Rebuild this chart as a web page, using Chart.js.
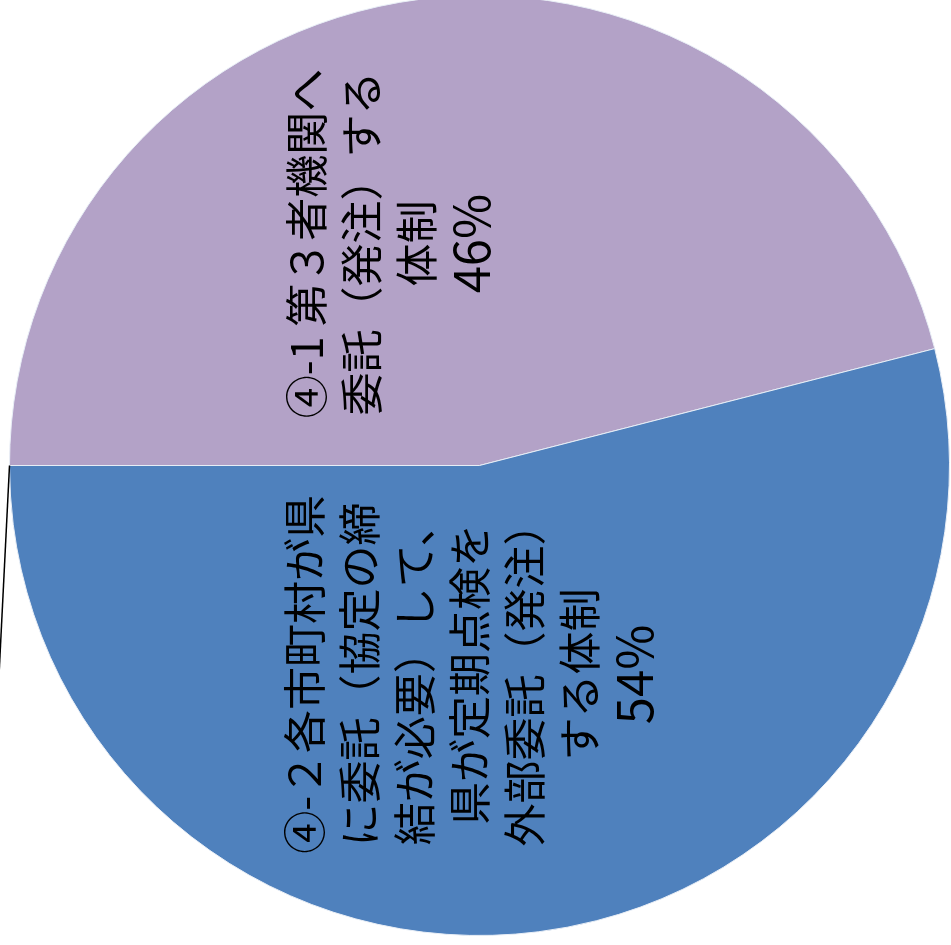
<!DOCTYPE html>
<html lang="ja">
<head>
<meta charset="utf-8">
<title>点検体制</title>
<script src="https://cdn.jsdelivr.net/npm/chart.js@4/dist/chart.umd.min.js"></script>
<style>
  html, body { margin: 0; padding: 0; background: #fff; overflow: hidden; width: 951px; height: 945px; }
  #wrap { position: absolute; left: 0; top: -5px; width: 951px; height: 946px; }
</style>
</head>
<body>
<div id="wrap"><canvas id="pie" width="951" height="946"></canvas></div>
<script>
const categories = [
  ["④-1 第３者機関へ", "委託（発注）する", "体制"],
  ["④-２各市町村が県", "に委託（協定の締", "結が必要）して、", "県が定期点検を", "外部委託（発注）", "する体制"],
];
const shares = [46, 54];
const sliceColors = ["#b3a2c7", "#4f81bd"];

// where each label sits: fraction of radius from centre, and turn (deg) off the slice middle
const labelAnchors = [
  { dist: 0.51, turn: -15 },
  { dist: 0.445, turn: 10 },
];

const FAMILY = "'Noto Sans CJK JP', 'Noto Sans', sans-serif";
const TEXT_PX = 43;
const PCT_PX = 49;
const LINE_H = 55;

const sideLabels = {
  id: "sideLabels",
  afterDatasetsDraw(chart) {
    const ctx = chart.ctx;
    const arcs = chart.getDatasetMeta(0).data;

    // leader line running off the left edge
    const a0 = arcs[0].getProps(["x", "y", "startAngle", "outerRadius"], true);
    const sx = a0.x + Math.cos(a0.startAngle) * a0.outerRadius;
    const sy = a0.y + Math.sin(a0.startAngle) * a0.outerRadius;
    ctx.save();
    ctx.strokeStyle = "#000";
    ctx.lineWidth = 1.5;
    ctx.beginPath();
    ctx.moveTo(sx, sy);
    ctx.lineTo(sx - a0.outerRadius * 0.03, sy + a0.outerRadius * 0.6);
    ctx.stroke();
    ctx.restore();

    arcs.forEach((arc, i) => {
      const p = arc.getProps(["x", "y", "startAngle", "endAngle", "outerRadius"], true);
      const mid = (p.startAngle + p.endAngle) / 2 + labelAnchors[i].turn * Math.PI / 180;
      const r = p.outerRadius * labelAnchors[i].dist;
      const lx = p.x + Math.cos(mid) * r;
      const ly = p.y + Math.sin(mid) * r;
      const lines = [...categories[i], shares[i] + "%"];

      ctx.save();
      ctx.translate(lx, ly);
      ctx.rotate(-Math.PI / 2);
      ctx.fillStyle = "#000";
      ctx.textAlign = "center";
      ctx.textBaseline = "middle";
      const top = -((lines.length - 1) * LINE_H) / 2;
      lines.forEach((t, k) => {
        const last = k === lines.length - 1;
        ctx.font = (last ? PCT_PX : TEXT_PX) + "px " + FAMILY;
        ctx.fillText(t, 0, top + k * LINE_H);
      });
      ctx.restore();
    });
  },
};

new Chart(document.getElementById("pie"), {
  type: "pie",
  data: {
    labels: categories.map((c) => c.join("")),
    datasets: [{
      data: shares,
      backgroundColor: sliceColors,
      borderColor: "#e8eef6",
      borderWidth: 1,
    }],
  },
  options: {
    responsive: false,
    animation: false,
    rotation: 270,
    layout: { padding: { left: 9, right: 1, top: 0, bottom: 5 } },
    plugins: {
      legend: { display: false },
      tooltip: { enabled: false },
    },
  },
  plugins: [sideLabels],
});
</script>
</body>
</html>
